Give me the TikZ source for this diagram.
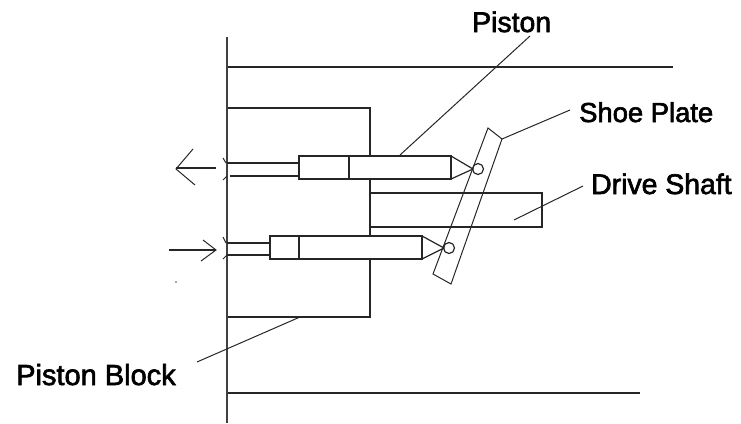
\documentclass[tikz,border=0pt]{standalone}
\usepackage{fontspec}
\setmainfont[FakeBold=2.2]{Liberation Sans}
\tikzset{
  ln/.style={line width=1.2pt,black!85},
  axis/.style={line width=1.5pt,black!75},
  lead/.style={line width=1pt,black!85},
  lab/.style={font=\fontsize{28.4}{30}\selectfont,anchor=base west,inner sep=0pt}
}
\begin{document}
\begin{tikzpicture}[x=1pt,y=-1pt]
\useasboundingbox (0,0) rectangle (741,423);
% labels
\node[lab] (piston) at (472,32) {Piston};
\node[lab] (shoe) at (579,122) {\fontsize{27.4}{30}\selectfont Shoe Plate};
\node[lab] (shaft) at (591,194) {Drive Shaft};
\node[lab] (block) at (16,385) {\fontsize{29}{30}\selectfont Piston Block};
% frame
\draw[axis] (227,37) -- (227,423);
\draw[ln] (228,67) -- (673,67);
\draw[ln] (228,393) -- (640,393);
% piston block
\draw[ln] (228,108) -- (370,108) -- (370,156);
\draw[ln] (370,179) -- (370,236);
\draw[ln] (370,259) -- (370,317) -- (228,317);
% drive shaft
\draw[ln] (370,193) -- (542,193) -- (542,227) -- (370,227);
% upper piston
\draw[ln] (299,156) rectangle (451,179);
\draw[ln] (349,156) -- (349,179);
\draw[ln] (227,163) -- (299,163);
\draw[ln] (230,176) -- (299,176);
\draw[ln] (451,156) -- (473,169) -- (451,179);
\draw[ln] (478,169) circle (5.5);
% lower piston
\draw[ln] (270,236) rectangle (422,259);
\draw[ln] (299,236) -- (299,259);
\draw[ln] (227,243) -- (270,243);
\draw[ln] (227,255) -- (270,255);
\draw[ln] (422,236) -- (444,248) -- (422,259);
\draw[ln] (449,248) circle (5.5);
% shoe plate
\draw[lead] (488,128) -- (502,139) -- (451,284) -- (433,274) -- cycle;
% port ticks
\draw[lead] (223,158) -- (226,163);
\draw[lead] (223,180) -- (227,176);
\draw[lead] (223,237) -- (226,243);
\draw[lead] (223,259) -- (227,255);
% flow arrows
\draw[ln] (216,168) -- (176,168);
\draw[lead] (193,149) -- (176,169) -- (195,185);
\draw[ln] (169,250) -- (216,250);
\draw[lead] (203,240) -- (216,250) -- (201,261);
\fill[black!70] (176,282) circle (0.8);
% leaders
\coordinate (pa) at (400,155);
\coordinate (sa) at (502,139);
\coordinate (da) at (514,220);
\coordinate (ba) at (300,317);
\draw[lead] (pa) -- (530,36);
\draw[lead] (sa) -- (570,110);
\draw[lead] (da) -- (583,186);
\draw[lead] (ba) -- (197,362);
\end{tikzpicture}
\end{document}
